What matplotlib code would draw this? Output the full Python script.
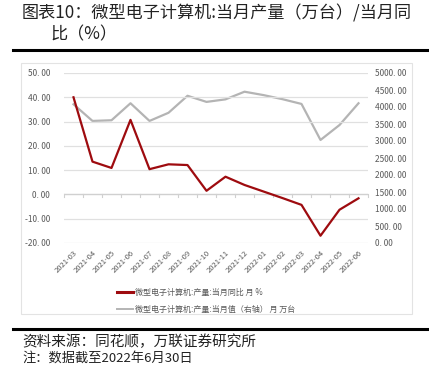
import matplotlib
matplotlib.use("Agg")
import matplotlib.pyplot as plt
import matplotlib.transforms as mtransforms
from matplotlib.lines import Line2D
from matplotlib.patches import Rectangle

plt.rcParams['font.family'] = ['Noto Sans CJK SC', 'DejaVu Sans']

categories = ["2021-03", "2021-04", "2021-05", "2021-06", "2021-07", "2021-08",
              "2021-09", "2021-10", "2021-11", "2021-12", "2022-01", "2022-02",
              "2022-03", "2022-04", "2022-05", "2022-06"]
yoy = [40.0, 13.5, 10.9, 30.7, 10.4, 12.4, 12.1, 1.5, 7.3, 3.9, 1.2, -1.5,
       -4.3, -17.0, -6.3, -1.6]
output = [4080, 3590, 3610, 4110, 3590, 3830, 4330, 4150, 4225, 4450, 4350,
          4230, 4090, 3030, 3470, 4110]
left_ticks = [-20, -10, 0, 10, 20, 30, 40, 50]
right_ticks = [0, 500, 1000, 1500, 2000, 2500, 3000, 3500, 4000, 4500, 5000]
label_yoy = "微型电子计算机:产量:当月同比 月 %"
label_out = "微型电子计算机:产量:当月值（右轴） 月 万台"

W, H = 429, 365
fig = plt.figure(figsize=(W / 100, H / 100), dpi=100)

def px(x0, y0, x1, y1):
    return [x0 / W, 1 - y1 / H, (x1 - x0) / W, (y1 - y0) / H]

RED = "#9e0b0f"
GRAY = "#b4b4b4"
TXT = "#595959"

# title
fig.text(22 / W, 1 - 13 / H, "图表10：微型电子计算机:当月产量（万台）/当月同",
         fontsize=12.3, va="center", ha="left", color="#222222")
fig.text(50 / W, 1 - 34 / H, "比（%）", fontsize=12.3, va="center", ha="left",
         color="#222222")
# thick rules
fig.add_artist(Line2D([13 / W, 1.0], [1 - 50 / H] * 2, color="black", lw=2.2))
fig.add_artist(Line2D([13 / W, 1.0], [1 - 329 / H] * 2, color="black", lw=2.2))
# chart frame
fig.add_artist(Rectangle((21 / W, 1 - 314 / H), (412 - 21) / W, (314 - 63) / H,
                         fill=False, ec="#e3e3e3", lw=0.8))
fig.text(22 / W, 1 - 342 / H, "资料来源：同花顺，万联证券研究所", fontsize=10.5,
         va="center", ha="left", color="#222222")
fig.text(22 / W, 1 - 358 / H, "注：数据截至2022年6月30日", fontsize=9.5,
         va="center", ha="left", color="#222222")

ax = fig.add_axes(px(64, 73, 368, 243))
x = list(range(len(categories)))
ax.set_xlim(-0.5, len(categories) - 0.5)
ax.set_ylim(left_ticks[0], left_ticks[-1])
for s in ax.spines.values():
    s.set_visible(False)
ax.set_yticks(left_ticks)
ax.set_yticklabels([f"{v:.2f}".replace(".", ". ") for v in left_ticks],
                   fontsize=6, color=TXT)
ax.tick_params(axis="y", length=0, pad=10)
ax.grid(axis="y", color="#e0e0e0", lw=0.9)
ax.set_axisbelow(True)
ax.set_xticks(x)
ax.set_xticklabels(categories, rotation=45, ha="right", rotation_mode="anchor",
                   fontsize=5.5, color=TXT)
ax.tick_params(axis="x", length=0, pad=4)
# zero-line ticks between categories
trans = mtransforms.blended_transform_factory(ax.transData, ax.transData)
for i in range(len(categories) + 1):
    ax.plot([i - 0.5, i - 0.5], [0, -1.2], color="#d0d0d0", lw=0.8,
            transform=trans, clip_on=False, zorder=1)
ax.axhline(0, color="#d0d0d0", lw=0.9, zorder=1)

ax2 = ax.twinx()
ax2.set_ylim(right_ticks[0], right_ticks[-1])
for s in ax2.spines.values():
    s.set_visible(False)
ax2.set_yticks(right_ticks)
ax2.set_yticklabels([f"{v:.2f}".replace(".", ". ") for v in right_ticks],
                    fontsize=6, color=TXT)
ax2.tick_params(axis="y", length=0, pad=5)

l2, = ax2.plot(x, output, color=GRAY, lw=1.6, zorder=2)
l1, = ax.plot(x, yoy, color=RED, lw=1.6, zorder=3)
ax.set_zorder(ax2.get_zorder() + 1)
ax.patch.set_visible(False)

leg = fig.legend([l1, l2], [label_yoy, label_out], loc="upper left",
                 bbox_to_anchor=(110 / W, 1 - 281 / H), frameon=False,
                 fontsize=5.8, handlelength=2.0, handletextpad=0.2,
                 labelspacing=1.0, labelcolor=TXT)
leg.get_lines()[0].set_linewidth(2.2)
leg.get_lines()[1].set_linewidth(1.4)

fig.savefig("out.png", dpi=100)
